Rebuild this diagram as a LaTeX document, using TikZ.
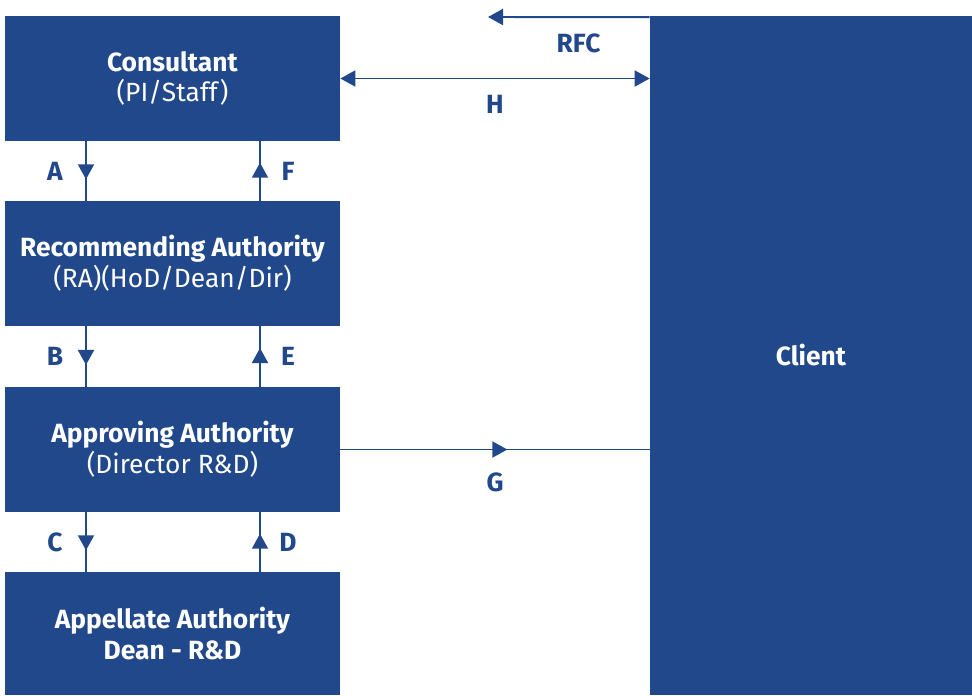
\documentclass[tikz,border=0pt]{standalone}
\usepackage{fontspec}
\setmainfont{Fira Sans}
\usepackage{tikz}
\usetikzlibrary{arrows.meta,decorations.markings}
\definecolor{rdblue}{RGB}{32,72,138}

\begin{document}
\begin{tikzpicture}
[mybox/.style={rectangle,fill=rdblue,minimum width=67mm,minimum height=25mm,align=center,text=white,inner sep=0pt,font=\fontsize{15}{17.5}\selectfont},
bigbox/.style={mybox,minimum width=64.4mm,minimum height=135.8mm,font=\bfseries\fontsize{15}{17.5}\selectfont},
flow/.style={draw=rdblue,line width=1.1pt},
tip/.style={-{Triangle[length=3mm,width=3.2mm]}},
midarrow/.style={flow,postaction={decorate},decoration={markings,mark=at position #1 with {\arrow{Triangle[length=3mm,width=3.2mm]}}}},
lbl/.style={text=rdblue,font=\bfseries\fontsize{15}{17.5}\selectfont},
]
\useasboundingbox (0,0) rectangle (19.44,-13.9);

\node [mybox] (Cons) at (3.45,-1.57){\textbf{Consultant}\\(PI/Staff)};
\node [mybox] (RA) at (3.45,-5.27){\textbf{Recommending Authority}\\(RA)(HoD/Dean/Dir)};
\node [mybox] (AA) at (3.45,-8.99){\textbf{Approving Authority}\\(Director R\&D)};
\node [mybox,minimum height=24.6mm] (App) at (3.45,-12.67){\textbf{Appellate Authority}\\\textbf{Dean - R\&D}};
\node [bigbox] (Cli) at (16.22,-7.11){Client};
\coordinate (rfc) at (9.76,-0.34);

\draw[midarrow=0.64] ([xshift=-17.3mm]Cons.south) -- ([xshift=-17.3mm]RA.north) node[midway,lbl,xshift=-6.2mm]{A};
\draw[midarrow=0.64] ([xshift=-17.3mm]RA.south) -- ([xshift=-17.3mm]AA.north) node[midway,lbl,xshift=-6.2mm]{B};
\draw[midarrow=0.64] ([xshift=-17.3mm]AA.south) -- ([xshift=-17.3mm]App.north) node[midway,lbl,xshift=-6.2mm]{C};
\draw[midarrow=0.64] ([xshift=17.5mm]App.north) -- ([xshift=17.5mm]AA.south) node[midway,lbl,xshift=5.6mm]{D};
\draw[midarrow=0.64] ([xshift=17.5mm]AA.north) -- ([xshift=17.5mm]RA.south) node[midway,lbl,xshift=5.6mm]{E};
\draw[midarrow=0.64] ([xshift=17.5mm]RA.north) -- ([xshift=17.5mm]Cons.south) node[midway,lbl,xshift=5.6mm]{F};

\draw[midarrow=0.54] (AA.east) -- (AA.east -| Cli.west) node[midway,lbl,yshift=-6.6mm]{G};
\draw[flow,{Triangle[length=3mm,width=3.2mm]}-{Triangle[length=3mm,width=3.2mm]}] (Cons.east) -- (Cons.east -| Cli.west) node[midway,lbl,yshift=-5.2mm]{H};
\draw[flow,tip] ([yshift=-0.3mm]Cli.north west) -- (rfc) node[pos=0.44,lbl,yshift=-5.2mm]{RFC};
\end{tikzpicture}
\end{document}
